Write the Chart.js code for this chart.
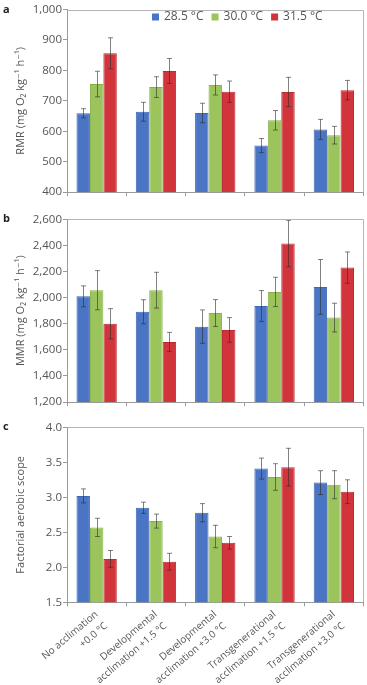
<!DOCTYPE html>
<html><head><meta charset="utf-8">
<script src="https://cdn.jsdelivr.net/npm/chart.js@4"></script>
<style>
html,body{margin:0;padding:0;background:#fff;width:367px;height:685px;overflow:hidden;position:relative}
canvas{position:absolute;left:0}
.pl{position:absolute;left:3px;font:bold 11px "Open Sans",sans-serif;color:#222;z-index:2;line-height:11px}
</style></head><body>
<canvas id="ca" width="367" height="200" style="top:0px"></canvas>
<canvas id="cb" width="367" height="210" style="top:200px"></canvas>
<canvas id="cc" width="367" height="275" style="top:410px"></canvas>
<div class="pl" style="top:3px">a</div>
<div class="pl" style="top:212px">b</div>
<div class="pl" style="top:420px">c</div>
<script>
const categories = [
  ["No acclimation", "+0.0 °C"],
  ["Developmental", "acclimation +1.5 °C"],
  ["Developmental", "acclimation +3.0 °C"],
  ["Transgenerational", "acclimation +1.5 °C"],
  ["Transgenerational", "acclimation +3.0 °C"]
];
const seriesNames = ["28.5 °C", "30.0 °C", "31.5 °C"];

const rmr285 = [659, 664, 660, 553, 606];
const rmr300 = [755, 745, 752, 636, 587];
const rmr315 = [856, 798, 730, 729, 735];
const rmr285Err = [15, 31, 32, 23, 33];
const rmr300Err = [42, 34, 33, 32, 29];
const rmr315Err = [51, 41, 35, 48, 32];

const mmr285 = [2010, 1892, 1778, 1936, 2082];
const mmr300 = [2057, 2057, 1882, 2044, 1847];
const mmr315 = [1800, 1661, 1753, 2414, 2230];
const mmr285Err = [80, 92, 128, 118, 210];
const mmr300Err = [150, 137, 103, 112, 110];
const mmr315Err = [116, 73, 94, 178, 120];

const fas285 = [3.02, 2.85, 2.78, 3.41, 3.21];
const fas300 = [2.57, 2.66, 2.44, 3.29, 3.18];
const fas315 = [2.12, 2.08, 2.35, 3.43, 3.08];
const fas285Err = [0.10, 0.08, 0.13, 0.15, 0.17];
const fas300Err = [0.13, 0.10, 0.16, 0.19, 0.20];
const fas315Err = [0.12, 0.12, 0.09, 0.27, 0.17];

const fills = ['#4a74c4', '#9cc45c', '#d2343c'];
const borders = ['#3f66b0', '#88b04a', '#b92c33'];
const FONT = '"Open Sans", "DejaVu Sans", sans-serif';
const TXT = '#555';
const AX = '#9a9a9a';

const errorBars = {
  id: 'errorBars',
  afterDatasetsDraw(chart) {
    const ctx = chart.ctx, ys = chart.scales.y;
    ctx.save();
    ctx.strokeStyle = 'rgba(45,45,45,0.6)';
    ctx.lineWidth = 1;
    chart.data.datasets.forEach((ds, i) => {
      const meta = chart.getDatasetMeta(i);
      meta.data.forEach((el, j) => {
        const v = ds.data[j], e = ds.err[j];
        const x = Math.round(el.x) + 0.5;
        const t = ys.getPixelForValue(v + e), b = ys.getPixelForValue(v - e);
        ctx.beginPath();
        ctx.moveTo(x, t); ctx.lineTo(x, b);
        ctx.moveTo(x - 2.5, t); ctx.lineTo(x + 2.5, t);
        ctx.moveTo(x - 2.5, b); ctx.lineTo(x + 2.5, b);
        ctx.stroke();
      });
    });
    ctx.restore();
  }
};

const frame = {
  id: 'frame',
  afterDraw(chart) {
    const {ctx, chartArea: a} = chart;
    ctx.save();
    ctx.strokeStyle = '#b5b5b5';
    ctx.lineWidth = 1;
    ctx.beginPath();
    ctx.moveTo(Math.round(a.left) + 0.5, Math.round(a.top) + 0.5);
    ctx.lineTo(Math.round(a.right) - 0.5, Math.round(a.top) + 0.5);
    ctx.lineTo(Math.round(a.right) - 0.5, Math.round(a.bottom));
    ctx.stroke();
    ctx.restore();
  }
};

const topLegend = {
  id: 'topLegend',
  afterDraw(chart) {
    if (!chart.options.plugins.topLegend || !chart.options.plugins.topLegend.show) return;
    const {ctx, chartArea: a} = chart;
    ctx.save();
    ctx.font = '12px ' + FONT;
    ctx.textBaseline = 'middle';
    let x = a.left + 85;
    const y = a.top + 7.5;
    chart.data.datasets.forEach((ds, i) => {
      ctx.fillStyle = fills[i];
      ctx.fillRect(x, y - 3.5, 7, 7);
      x += 12;
      ctx.fillStyle = TXT;
      ctx.fillText(ds.label, x, y);
      x += ctx.measureText(ds.label).width + 8;
    });
    ctx.restore();
  }
};

function makeChart(id, cfg) {
  const datasets = cfg.values.map((vals, i) => ({
    label: seriesNames[i],
    data: vals,
    err: cfg.errs[i],
    backgroundColor: fills[i],
    borderColor: borders[i],
    borderWidth: 1,
    categoryPercentage: 0.68,
    barPercentage: 1.0
  }));
  return new Chart(document.getElementById(id), {
    type: 'bar',
    data: { labels: categories, datasets },
    plugins: [errorBars, frame, topLegend],
    options: {
      responsive: false,
      animation: false,
      layout: { padding: { top: cfg.padTop, right: 3.5, bottom: 0, left: 0 } },
      plugins: {
        legend: { display: false },
        tooltip: { enabled: false },
        topLegend: { show: !!cfg.legend }
      },
      scales: {
        x: {
          grid: { offset: true, drawOnChartArea: false, drawTicks: true, tickLength: 4, color: AX },
          border: { color: AX },
          ticks: {
            display: !!cfg.showX,
            autoSkip: false,
            minRotation: 40,
            maxRotation: 40,
            padding: 1,
            color: TXT,
            font: { family: FONT, size: 10, lineHeight: 1.5 }
          },
          afterFit(s) { s.height = cfg.xHeight; }
        },
        y: {
          min: cfg.min, max: cfg.max,
          ticks: {
            stepSize: cfg.step,
            padding: 1,
            color: TXT,
            font: { family: FONT, size: 11.5 },
            callback: cfg.fmt
          },
          grid: { drawOnChartArea: false, drawTicks: true, tickLength: 4, color: AX },
          border: { color: AX },
          title: {
            display: true,
            text: cfg.title,
            color: TXT,
            font: { family: FONT, size: 11 },
            padding: { top: 14, bottom: 0 }
          },
          afterFit(s) { s.width = 67; }
        }
      }
    }
  });
}

const thousands = v => v.toLocaleString('en-US');

makeChart('ca', {
  values: [rmr285, rmr300, rmr315],
  errs: [rmr285Err, rmr300Err, rmr315Err],
  min: 400, max: 1000, step: 100, fmt: thousands,
  title: 'RMR (mg O₂ kg⁻¹ h⁻¹)',
  padTop: 9.5, xHeight: 7, legend: true
});
makeChart('cb', {
  values: [mmr285, mmr300, mmr315],
  errs: [mmr285Err, mmr300Err, mmr315Err],
  min: 1200, max: 2600, step: 200, fmt: thousands,
  title: 'MMR (mg O₂ kg⁻¹ h⁻¹)',
  padTop: 19.3, xHeight: 7
});
makeChart('cc', {
  values: [fas285, fas300, fas315],
  errs: [fas285Err, fas300Err, fas315Err],
  min: 1.5, max: 4.0, step: 0.5, fmt: v => v.toFixed(1),
  title: 'Factorial aerobic scope',
  padTop: 17.3, xHeight: 82.7, showX: true
});
</script>
</body></html>
